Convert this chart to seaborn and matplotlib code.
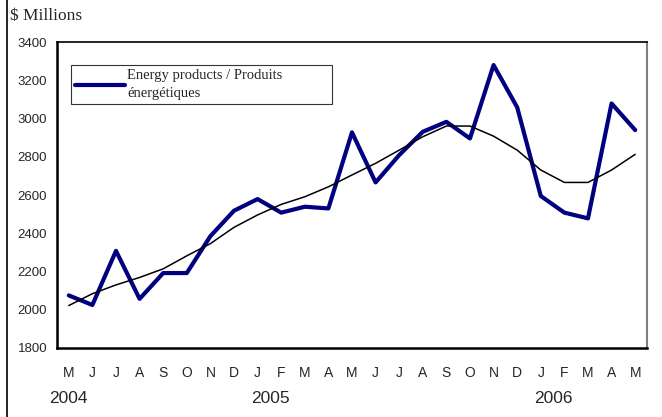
import numpy as np
import pandas as pd
import seaborn as sns
import matplotlib.pyplot as plt
from matplotlib.lines import Line2D
from matplotlib.ticker import FixedLocator

# Monthly values, May 2004 - May 2006
months = ['M', 'J', 'J', 'A', 'S', 'O', 'N', 'D',
          'J', 'F', 'M', 'A', 'M', 'J', 'J', 'A', 'S', 'O', 'N', 'D',
          'J', 'F', 'M', 'A', 'M']
energy = [2075, 2025, 2308, 2057, 2192, 2192, 2385, 2518,
          2579, 2508, 2539, 2530, 2928, 2666, 2809, 2931, 2983, 2896, 3280, 3059,
          2595, 2508, 2478, 3079, 2940]
trend = [2022, 2084, 2130, 2169, 2214, 2282, 2346, 2431,
         2496, 2551, 2591, 2643, 2705, 2766, 2835, 2905, 2961, 2961, 2908, 2835,
         2731, 2666, 2666, 2731, 2813]
years = ['2004', '2005', '2006']
year_pos = [0, 8.55, 20.55]

df = pd.DataFrame({'idx': np.arange(len(months)), 'energy': energy, 'trend': trend})

sns.set_style('white')
plt.rcParams['font.family'] = ['Liberation Sans', 'DejaVu Sans']

fig = plt.figure(figsize=(6.62, 4.17), dpi=100)
ax = fig.add_axes([0.0861, 0.1655, 0.8912, 0.7335])

sns.lineplot(data=df, x='idx', y='energy', color='#000080', linewidth=3.0,
             ax=ax, label='Energy products / Produits\nénergétiques')
sns.lineplot(data=df, x='idx', y='trend', color='black', linewidth=1.1, ax=ax)

ax.set_xlim(-0.5, len(months) - 0.5)
ax.set_ylim(1800, 3400)
ax.set_yticks(np.arange(1800, 3401, 200))
ax.set_xlabel('')
ax.set_ylabel('')

# month ticks: marks on boundaries, labels in the middle
ax.xaxis.set_major_locator(FixedLocator(np.arange(len(months) + 1) - 0.5))
ax.xaxis.set_minor_locator(FixedLocator(np.arange(len(months))))
ax.set_xticklabels([], minor=False)
ax.set_xticklabels(months, minor=True)
ax.tick_params(axis='x', which='major', direction='inout', length=7, width=1, color='black')
ax.tick_params(axis='x', which='minor', length=0, pad=13, labelsize=10)
ax.tick_params(axis='y', direction='out', length=5, width=1, color='black', labelsize=9.5, pad=2)

for s in ['left', 'bottom']:
    ax.spines[s].set_color('black')
    ax.spines[s].set_linewidth(1.8)
ax.spines['top'].set_color('black')
ax.spines['top'].set_linewidth(1.2)
ax.spines['right'].set_color('#808080')
ax.spines['right'].set_linewidth(1.5)

for y, p in zip(years, year_pos):
    ax.text(p, -0.165, y, transform=ax.get_xaxis_transform(), ha='center', va='center', fontsize=12.5)

leg = ax.legend(loc='upper left', bbox_to_anchor=(0.0237, 0.794, 0.4424, 0.131), mode='expand',
                borderaxespad=0, frameon=True, fancybox=False, handlelength=3.4, borderpad=0.3,
                handletextpad=0.15, prop={'family': 'Liberation Serif', 'size': 10.5})
leg.get_frame().set_edgecolor('black')
leg.get_frame().set_linewidth(0.8)
leg.get_texts()[0].set_linespacing(1.45)

fig.text(0.015, 0.962, '$ Millions', family='Liberation Serif', fontsize=12.5, ha='left', va='center')
fig.add_artist(Line2D([0.0106, 0.0106], [0, 1], transform=fig.transFigure, color='black', linewidth=1.2))

fig.savefig('out.png', dpi=100)
